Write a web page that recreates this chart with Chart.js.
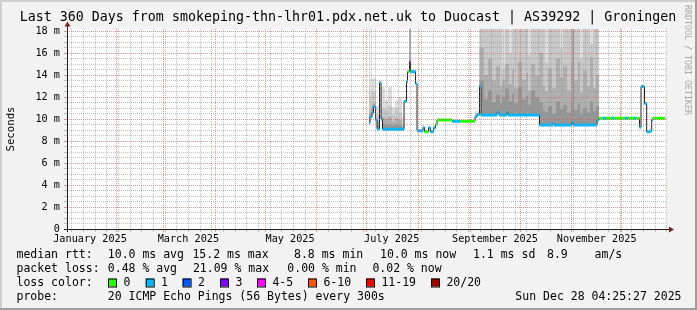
<!DOCTYPE html>
<html>
<head>
<meta charset="utf-8">
<script src="https://cdn.jsdelivr.net/npm/chart.js@4.4.1/dist/chart.umd.min.js"></script>
<style>
	html, body { margin: 0; padding: 0; background: #f2f2f2; }
	canvas { display: block; }
</style>
</head>
<body>
<canvas id="smokeChart" width="697" height="310"></canvas>
<script>
// x values are days since Wed Jan 01 2025 00:00
const xStart = 1.184; // Thu Jan 02 04:25:27 2025
const xEnd = 361.184; // Sun Dec 28 04:25:27 2025

const monthStarts = [ 31, 59, 90, 120, 151, 181, 212, 243, 273, 304, 334 ];
const monthLabelDays = [ 15, 74, 135, 196, 258, 319 ];
const monthLabels = [
	'January 2025',
	'March 2025',
	'May 2025',
	'July 2025',
	'September 2025',
	'November 2025',
];
const firstSunday = 4;

const yLabelValues = [ 0, 2, 4, 6, 8, 10, 12, 14, 16, 18 ];
const yMax = 200 / 11;

// median rtt (ms), one value per step; medDays holds the step starts plus the end
const medDays = [
	182.4, 183.0, 184.2, 185.1, 186.3, 187.2, 188.7, 189.6, 190.5, 203.4,
	204.9, 205.5, 206.7, 207.3, 210.3, 211.2, 214.8, 215.7, 218.1, 219.3,
	221.1, 222.3, 223.2, 232.2, 237.0, 246.0, 247.2, 248.7, 249.6, 259.2,
	260.4, 265.2, 265.8, 284.7, 292.8, 293.4, 304.2, 304.8, 319.2, 320.4,
	322.8, 324.6, 328.2, 329.4, 336.0, 337.8, 341.4, 342.6, 344.7, 345.6,
	347.7, 349.0, 351.0, 352.0, 352.6, 360.0,
];
const medRtt = [
	9.66, 10.2, 10.6, 11.1, 9.9, 9.1, 13.3, 10.0, 9.06, 11.6,
	13.4, 14.3, 15.2, 14.3, 13.2, 8.94, 9.24, 8.85, 9.2, 8.85,
	9.2, 9.5, 9.9, 9.8, 9.8, 10.2, 10.4, 13.0, 10.36, 10.6,
	10.36, 10.6, 10.36, 9.45, 9.6, 9.45, 9.7, 9.45, 9.9, 10.06,
	10.06, 10.06, 10.06, 10.06, 10.06, 10.06, 10.06, 10.06, 9.25, 12.95,
	11.4, 8.85, 8.9, 9.9, 10.06,
];
// loss bucket per step (index into lossLabels)
const medLoss = [
	1, 1, 1, 1, 1, 1, 1, 1, 1, 1,
	1, 0, 4, 1, 1, 1, 1, 0, 1, 1,
	1, 0, 0, 1, 0, 1, 1, 1, 1, 1,
	1, 1, 1, 1, 1, 1, 1, 1, 1, 0,
	1, 0, 1, 0, 1, 0, 1, 0, 1, 1,
	1, 1, 1, 1, 0,
];

// smoke: upper edge of each ping layer (ms), outermost first; null = no smoke
const smokeDays = [
	182.4, 183.0, 183.6, 184.2, 186.6, 189.0, 189.6, 192.0, 193.8, 196.2,
	198.0, 199.8, 202.2, 203.4, 206.7, 207.3,
	246.0, 248.7, 251.4, 253.8, 256.2, 258.6, 261.0, 262.2, 264.0, 266.4,
	268.2, 269.4, 271.8, 274.2, 276.6, 277.8, 279.6, 282.0, 284.7, 286.8,
	288.0, 289.8, 292.2, 294.6, 297.0, 298.8, 301.2, 303.6, 304.5, 305.4,
	307.8, 309.0, 310.8, 313.2, 315.0, 316.8, 318.6, 320.4,
	333.0, 333.6,
];
const smokeTop1 = [
	19, 13.7, 19, 13.7, 11.2, 13.5, 12.9, 11.7, 12.9, 11.1,
	11.7, 12.0, 10.2, null, 19, null,
	10.7, 19, 19, 19, 19, 19, 19, 19, 19, 19,
	19, 19, 19, 19, 19, 19, 19, 19, 19, 19,
	19, 19, 19, 19, 19, 19, 19, 19, 19, 19,
	19, 19, 19, 19, 19, 19, 19, null,
	11.0, null,
];
const smokeTop2 = [
	12.5, 12.0, 12.5, 12.5, 10.4, 13.4, 11.0, 10.8, 11.2, 10.4,
	10.9, 10.6, 9.6, null, 19, null,
	10.5, 19, 19, 19, 19, 19, 19, 14.5, 19, 16.0,
	19, 19, 19, 19, 19, 15.8, 19, 19, 19, 19,
	15.2, 19, 19, 19, 16.5, 19, 19, 19, 19, 19,
	19, 15.5, 19, 19, 16.8, 19, 19, null,
	10.6, null,
];
const smokeTop3 = [
	10.5, 10.8, 11.0, 11.4, 9.8, 13.4, 10.2, 10.0, 10.2, 9.8,
	10.1, 9.9, 9.3, null, 19, null,
	null, 16.5, 14.0, 15.5, 13.5, 14.8, 13.0, 13.5, 15.0, 13.2,
	14.5, 12.8, 15.2, 13.6, 14.2, 12.6, 15.0, 14.0, 16.0, 13.0,
	12.5, 14.6, 12.8, 15.5, 13.8, 14.8, 12.6, 15.0, 19, 13.5,
	15.2, 12.4, 14.4, 13.0, 15.6, 12.8, 14.0, null,
	null, null,
];
const smokeTop4 = [
	9.9, 10.4, 10.5, 11.2, 9.5, 13.3, 9.6, 9.5, 9.5, 9.4,
	9.5, 9.4, 9.2, null, 19, null,
	null, 13.5, 11.8, 12.6, 11.5, 12.2, 11.4, 12.0, 12.8, 11.6,
	12.3, 11.4, 12.9, 11.8, 12.1, 11.3, 12.6, 12.0, 11.5, 10.8,
	10.6, 11.2, 10.5, 11.6, 10.9, 11.3, 10.6, 11.5, 19, 10.8,
	11.4, 10.5, 11.0, 10.6, 11.6, 10.7, 11.2, null,
	null, null,
];
const smokeLayers = [ smokeTop1, smokeTop2, smokeTop3, smokeTop4 ];
const smokeColors = [ '#dddddd', '#c8c8c8', '#afafaf', '#969696' ];

const lossLabels = [ '0', '1', '2', '3', '4-5', '6-10', '11-19', '20/20' ];
const lossColors = [
	'#26ff00',
	'#00b8ff',
	'#0059ff',
	'#7e00ff',
	'#ff00ff',
	'#ff5500',
	'#ff0000',
	'#a10000',
];

const gridGray = 'rgba(143, 143, 143, 0.55)';
const gridRed = 'rgba(222, 79, 79, 0.6)';
const noColor = 'rgba(0, 0, 0, 0)';
const monoFont = '"DejaVu Sans Mono", monospace';

// x ticks: weekly (Sunday) minor lines, month starts, label positions
const weekDays = [];
for ( let d = firstSunday; d < xEnd; d += 7 ) {
	weekDays.push( d );
}
const xTickValues = [
	...new Set( [ ...weekDays, ...monthStarts, ...monthLabelDays ] ),
].sort( ( a, b ) => a - b );
const yTickValues = [];
for ( let v = 0; v <= 18; v += 0.5 ) {
	yTickValues.push( v );
}

function xGridColor( c ) {
	if ( ! c.tick ) {
		return gridGray;
	}
	const v = c.tick.value;
	if ( monthStarts.indexOf( v ) !== -1 ) {
		return gridRed;
	}
	return weekDays.indexOf( v ) !== -1 ? gridGray : noColor;
}

function yGridColor( c ) {
	if ( ! c.tick ) {
		return gridGray;
	}
	return yLabelValues.indexOf( c.tick.value ) !== -1 ? gridRed : gridGray;
}

// step lookup: value holding at day d
function stepAt( days, values, d ) {
	let idx = -1;
	for ( let i = 0; i < days.length; i++ ) {
		if ( days[ i ] <= d + 1e-9 ) {
			idx = i;
		}
	}
	if ( idx < 0 ) {
		return undefined;
	}
	return values[ Math.min( idx, values.length - 1 ) ];
}

// merged step grid for smoke areas
const stepGrid = [ ...new Set( [ ...medDays, ...smokeDays ] ) ]
	.filter( ( d ) => d >= medDays[ 0 ] && d <= medDays[ medDays.length - 1 ] )
	.sort( ( a, b ) => a - b );

const smokeBase = stepGrid.map( ( d ) => ( {
	x: d,
	y: stepAt( medDays, medRtt, d ),
} ) );

const datasets = [
	{
		label: 'smoke base',
		data: smokeBase,
		stepped: true,
		borderWidth: 0,
		borderColor: noColor,
		pointRadius: 0,
		fill: false,
		order: 100,
	},
];

smokeLayers.forEach( ( layer, k ) => {
	datasets.push( {
		label: 'smoke ' + ( k + 1 ),
		data: stepGrid.map( ( d ) => {
			const m = stepAt( medDays, medRtt, d );
			const top = stepAt( smokeDays, layer, d );
			return { x: d, y: top === null || top === undefined ? m : Math.max( m, top ) };
		} ),
		stepped: true,
		borderWidth: 0,
		borderColor: noColor,
		backgroundColor: smokeColors[ k ],
		pointRadius: 0,
		fill: 0,
		order: 90 - k * 10,
	} );
} );

// thin dark median line
const medLine = medRtt.map( ( v, i ) => ( { x: medDays[ i ], y: v } ) );
medLine.push( {
	x: medDays[ medDays.length - 1 ],
	y: medRtt[ medRtt.length - 1 ],
} );
datasets.push( {
	label: 'median',
	data: medLine,
	stepped: true,
	borderColor: '#202020',
	borderWidth: 1,
	pointRadius: 0,
	fill: false,
	order: 20,
} );

// loss coloured bands on the flat parts of the median
lossColors.forEach( ( color, b ) => {
	const pts = [];
	medRtt.forEach( ( v, i ) => {
		if ( medLoss[ i ] === b ) {
			pts.push( { x: medDays[ i ], y: v } );
			pts.push( { x: medDays[ i + 1 ], y: v } );
			pts.push( { x: medDays[ i + 1 ], y: null } );
		}
	} );
	if ( pts.length ) {
		datasets.push( {
			label: 'loss ' + lossLabels[ b ],
			data: pts,
			borderColor: color,
			borderWidth: 3,
			borderCapStyle: 'butt',
			pointRadius: 0,
			spanGaps: false,
			fill: false,
			order: 10,
		} );
	}
} );

const legendRows = [
	[
		[ 16.5, 'median rtt:' ],
		[ 107.8, '10.0 ms avg' ],
		[ 192.4, '15.2 ms max' ],
		[ 294, '8.8 ms min' ],
		[ 380, '10.0 ms now' ],
		[ 473, '1.1 ms sd' ],
		[ 547, '8.9' ],
		[ 594.6, 'am/s' ],
	],
	[
		[ 16.5, 'packet loss:' ],
		[ 107.8, '0.48 % avg' ],
		[ 192.9, '21.09 % max' ],
		[ 287.3, '0.00 % min' ],
		[ 372.4, '0.02 % now' ],
	],
	[ [ 16.5, 'loss color:' ] ],
	[
		[ 16.5, 'probe:' ],
		[ 107.8, '20 ICMP Echo Pings (56 Bytes) every 300s' ],
	],
];
const lossBoxX = [ 108, 145.7, 182.6, 220, 257, 308, 366, 431 ];

const rrdFrame = {
	id: 'rrdFrame',
	beforeDraw( chart ) {
		const { ctx, chartArea: a, width, height } = chart;
		ctx.save();
		ctx.fillStyle = '#f2f2f2';
		ctx.fillRect( 0, 0, width, height );
		ctx.fillStyle = '#ffffff';
		ctx.fillRect( a.left, a.top, a.right - a.left, a.bottom - a.top );
		ctx.fillStyle = '#cfcfcf';
		ctx.fillRect( 0, 0, width, 2 );
		ctx.fillRect( 0, 0, 2, height );
		ctx.fillStyle = '#9e9e9e';
		ctx.fillRect( 0, height - 2, width, 2 );
		ctx.fillRect( width - 2, 0, 2, height );
		ctx.restore();
	},
	afterDraw( chart ) {
		const { ctx, chartArea: a } = chart;
		ctx.save();

		// axes with arrows
		ctx.strokeStyle = '#1f1f1f';
		ctx.lineWidth = 1;
		ctx.beginPath();
		ctx.moveTo( a.left - 3, a.bottom + 0.5 );
		ctx.lineTo( a.right + 3, a.bottom + 0.5 );
		ctx.moveTo( a.left + 0.5, a.bottom + 3 );
		ctx.lineTo( a.left + 0.5, a.top - 3 );
		ctx.stroke();
		ctx.fillStyle = '#801f1f';
		ctx.beginPath();
		ctx.moveTo( a.right + 7, a.bottom + 0.5 );
		ctx.lineTo( a.right + 2, a.bottom - 2.5 );
		ctx.lineTo( a.right + 2, a.bottom + 3.5 );
		ctx.closePath();
		ctx.fill();
		ctx.beginPath();
		ctx.moveTo( a.left + 0.5, a.top - 7.5 );
		ctx.lineTo( a.left - 2.5, a.top - 2.5 );
		ctx.lineTo( a.left + 3.5, a.top - 2.5 );
		ctx.closePath();
		ctx.fill();

		// title
		ctx.fillStyle = '#000';
		ctx.font = '13.3px ' + monoFont;
		ctx.textAlign = 'center';
		ctx.textBaseline = 'middle';
		ctx.fillText(
			'Last 360 Days from smokeping-thn-lhr01.pdx.net.uk to Duocast | AS39292 | Groningen',
			348,
			18
		);

		// vertical unit label
		ctx.save();
		ctx.font = '10.7px ' + monoFont;
		ctx.translate( 11, 129 );
		ctx.rotate( -Math.PI / 2 );
		ctx.fillText( 'Seconds', 0, 0 );
		ctx.restore();

		// watermark
		ctx.save();
		ctx.font = '8.3px ' + monoFont;
		ctx.fillStyle = '#a8a8a8';
		ctx.textAlign = 'left';
		ctx.translate( 687, 5 );
		ctx.rotate( Math.PI / 2 );
		ctx.fillText( 'RRDTOOL / TOBI OETIKER', 0, 0 );
		ctx.restore();

		// legend rows
		ctx.font = '11.5px ' + monoFont;
		ctx.textAlign = 'left';
		ctx.fillStyle = '#000';
		const rowY = [ 255, 269, 283, 297 ];
		legendRows.forEach( ( row, r ) => {
			row.forEach( ( [ x, text ] ) => ctx.fillText( text, x, rowY[ r ] ) );
		} );
		lossColors.forEach( ( color, b ) => {
			const bx = lossBoxX[ b ];
			ctx.fillStyle = color;
			ctx.fillRect( bx, rowY[ 2 ] - 4.5, 8, 8 );
			ctx.strokeStyle = '#000';
			ctx.strokeRect( bx + 0.5, rowY[ 2 ] - 4, 8, 8 );
			ctx.fillStyle = '#000';
			ctx.fillText( lossLabels[ b ], bx + 15.4, rowY[ 2 ] );
		} );
		ctx.textAlign = 'right';
		ctx.fillText( 'Sun Dec 28 04:25:27 2025', 681.5, rowY[ 3 ] );

		ctx.restore();
	},
};

new Chart( document.getElementById( 'smokeChart' ).getContext( '2d' ), {
	type: 'line',
	data: { datasets },
	options: {
		responsive: false,
		devicePixelRatio: 1,
		animation: false,
		events: [],
		layout: { padding: { left: 0, right: 30, top: 29, bottom: 0 } },
		plugins: {
			legend: { display: false },
			title: { display: false },
			tooltip: { enabled: false },
		},
		scales: {
			x: {
				type: 'linear',
				min: xStart,
				max: xEnd,
				afterBuildTicks: ( scale ) => {
					scale.ticks = xTickValues.map( ( v ) => ( { value: v } ) );
				},
				afterFit: ( scale ) => {
					scale.height = 81;
				},
				grid: {
					z: 1,
					color: xGridColor,
					tickColor: xGridColor,
					tickLength: 3,
					lineWidth: 1,
				},
				border: { display: false, dash: [ 1, 1 ] },
				ticks: {
					autoSkip: false,
					maxRotation: 0,
					padding: 1,
					color: '#000',
					font: { family: monoFont, size: 10.2 },
					callback: ( v ) => {
						const i = monthLabelDays.indexOf( v );
						return i === -1 ? '' : monthLabels[ i ];
					},
				},
			},
			y: {
				type: 'linear',
				min: 0,
				max: yMax,
				afterBuildTicks: ( scale ) => {
					scale.ticks = yTickValues.map( ( v ) => ( { value: v } ) );
				},
				afterFit: ( scale ) => {
					scale.width = 67;
				},
				grid: {
					z: 1,
					color: yGridColor,
					tickColor: yGridColor,
					tickLength: 3,
					lineWidth: 1,
				},
				border: { display: false, dash: [ 1, 1 ] },
				ticks: {
					autoSkip: false,
					padding: 4,
					color: '#000',
					font: { family: monoFont, size: 10.2 },
					callback: ( v ) => {
						if ( yLabelValues.indexOf( v ) === -1 ) {
							return '';
						}
						return v === 0 ? '0' : v + ' m';
					},
				},
			},
		},
	},
	plugins: [ rrdFrame ],
} );
</script>
</body>
</html>
